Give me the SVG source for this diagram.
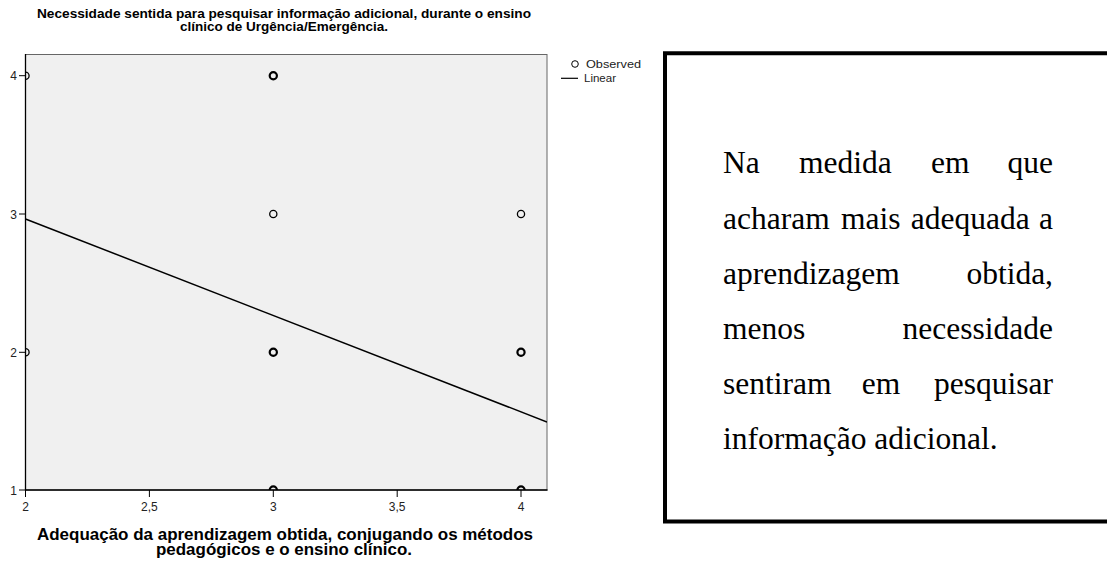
<svg xmlns="http://www.w3.org/2000/svg" width="1107" height="561" viewBox="0 0 1107 561">
<defs>
<style>
.ttl{font-family:"Liberation Sans",Arial,sans-serif;font-weight:bold;font-size:13.6px;fill:#000;text-anchor:middle}
.xttl{font-family:"Liberation Sans",Arial,sans-serif;font-weight:bold;font-size:16px;fill:#000;text-anchor:middle}
.tick{font-family:"Liberation Sans",Arial,sans-serif;font-size:12px;fill:#222}
.leg{font-family:"Liberation Sans",Arial,sans-serif;font-size:11px;fill:#222}
.body{font-family:"Liberation Serif","Times New Roman",serif;font-size:31.5px;fill:#000}
.pt{fill:none;stroke:#000;stroke-width:1.3}
.pt2{fill:none;stroke:#000;stroke-width:2.2}
</style>
<clipPath id="plotclip"><rect x="25.5" y="54.5" width="521.5" height="435.5"/></clipPath>
</defs>
<rect width="1107" height="561" fill="#fff"/>

<g id="title">
<text class="ttl" x="284" y="18" textLength="494" lengthAdjust="spacingAndGlyphs">Necessidade sentida para pesquisar informação adicional, durante o ensino</text>
<text class="ttl" x="284" y="31" textLength="208" lengthAdjust="spacingAndGlyphs">clínico de Urgência/Emergência.</text>
</g>

<g id="plot">
<rect x="25.5" y="54.5" width="521.5" height="435.5" fill="#f0f0f0" stroke="#666" stroke-width="1"/>
<line x1="25.5" y1="54" x2="25.5" y2="490.5" stroke="#000" stroke-width="1.3"/>
<line x1="25" y1="490" x2="547.5" y2="490" stroke="#000" stroke-width="1.3"/>
<g stroke="#000" stroke-width="1">
<line x1="19" y1="75.7" x2="25.5" y2="75.7"/>
<line x1="19" y1="214" x2="25.5" y2="214"/>
<line x1="19" y1="352.3" x2="25.5" y2="352.3"/>
<line x1="19" y1="490" x2="25.5" y2="490"/>
<line x1="25.5" y1="490" x2="25.5" y2="497"/>
<line x1="149.4" y1="490" x2="149.4" y2="497"/>
<line x1="273.3" y1="490" x2="273.3" y2="497"/>
<line x1="397.2" y1="490" x2="397.2" y2="497"/>
<line x1="521" y1="490" x2="521" y2="497"/>
</g>
<g class="tick">
<text x="17" y="80" text-anchor="end">4</text>
<text x="17" y="218.5" text-anchor="end">3</text>
<text x="17" y="356.5" text-anchor="end">2</text>
<text x="17" y="494.5" text-anchor="end">1</text>
<text x="25.5" y="510.5" text-anchor="middle">2</text>
<text x="149.4" y="510.5" text-anchor="middle">2,5</text>
<text x="273.3" y="510.5" text-anchor="middle">3</text>
<text x="397.2" y="510.5" text-anchor="middle">3,5</text>
<text x="521" y="510.5" text-anchor="middle">4</text>
</g>
<g clip-path="url(#plotclip)">
<line x1="25.5" y1="219" x2="547" y2="422" stroke="#000" stroke-width="1.5"/>
<circle class="pt" cx="25.5" cy="75.7" r="3.6"/>
<circle class="pt2" cx="273.3" cy="75.7" r="3.6"/>
<circle class="pt" cx="273.3" cy="214" r="3.6"/>
<circle class="pt" cx="521" cy="214" r="3.6"/>
<circle class="pt" cx="25.5" cy="352.3" r="3.6"/>
<circle class="pt2" cx="273.3" cy="352.3" r="3.6"/>
<circle class="pt2" cx="521" cy="352.3" r="3.6"/>
<circle class="pt2" cx="273.3" cy="490" r="3.6"/>
<circle class="pt2" cx="521" cy="490" r="3.6"/>
</g>
</g>

<g id="legend">
<circle cx="575" cy="64" r="3.3" fill="none" stroke="#000" stroke-width="1"/>
<text class="leg" x="586" y="68" textLength="55" lengthAdjust="spacingAndGlyphs">Observed</text>
<line x1="561" y1="78.3" x2="578" y2="78.3" stroke="#000" stroke-width="1.2"/>
<text class="leg" x="584" y="82" textLength="32" lengthAdjust="spacingAndGlyphs">Linear</text>
</g>

<g id="xtitle">
<text class="xttl" x="285" y="539.5" textLength="496" lengthAdjust="spacingAndGlyphs">Adequação da aprendizagem obtida, conjugando os métodos</text>
<text class="xttl" x="284" y="555" textLength="256" lengthAdjust="spacingAndGlyphs">pedagógicos e o ensino clínico.</text>
</g>

<g id="textbox">
<path d="M1110 53.3 H665 V521.5 H1110" fill="none" stroke="#000" stroke-width="4"/>
<text class="body">
<tspan x="723" y="173.3">Na</tspan><tspan x="799" y="173.3">medida</tspan><tspan x="931" y="173.3">em</tspan><tspan x="1053" y="173.3" text-anchor="end">que</tspan>
</text>
<text class="body">
<tspan x="723" y="228.5">acharam</tspan><tspan x="841" y="228.5">mais</tspan><tspan x="910.7" y="228.5">adequada</tspan><tspan x="1053" y="228.5" text-anchor="end">a</tspan>
</text>
<text class="body"><tspan x="723" y="283.7">aprendizagem</tspan></text>
<text class="body" x="1053" y="283.7" text-anchor="end">obtida,</text>
<text class="body"><tspan x="723" y="339">menos</tspan></text>
<text class="body" x="1053" y="339" text-anchor="end">necessidade</text>
<text class="body"><tspan x="723" y="394.2">sentiram</tspan><tspan x="861.7" y="394.2">em</tspan></text>
<text class="body" x="1053" y="394.2" text-anchor="end">pesquisar</text>
<text class="body" x="723" y="449.4">informação adicional.</text>
</g>
</svg>
